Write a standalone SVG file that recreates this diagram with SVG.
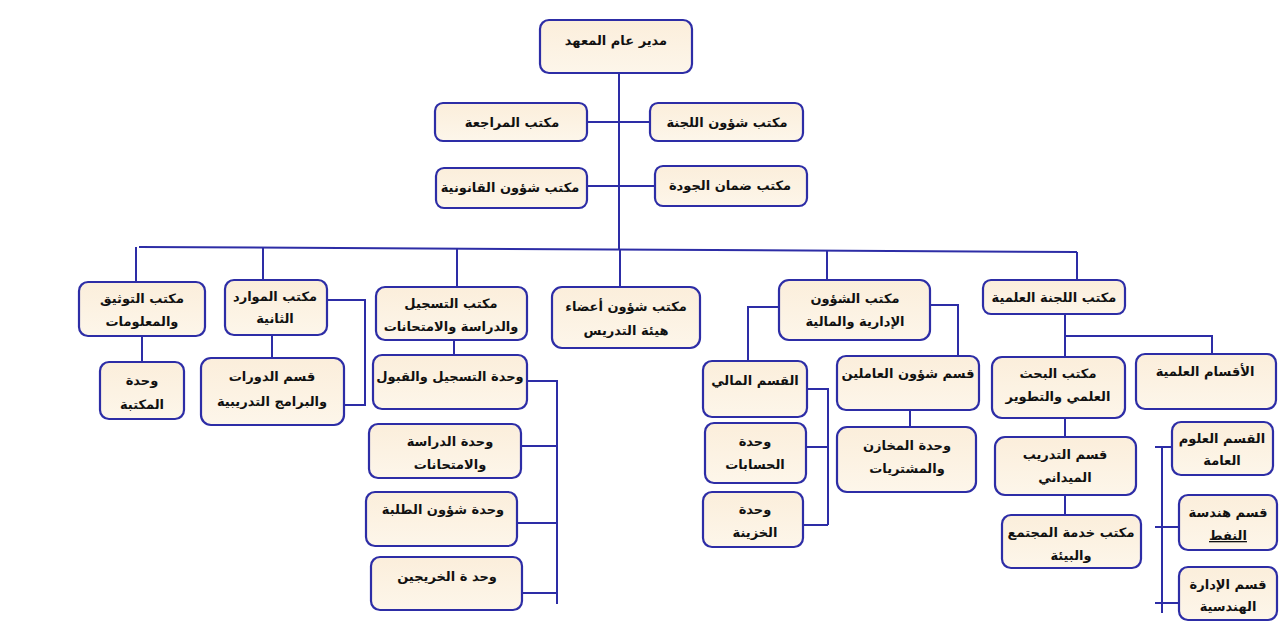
<svg xmlns="http://www.w3.org/2000/svg" width="1280" height="623" viewBox="0 0 1280 623">
<defs>
<linearGradient id="fill" x1="0" y1="0" x2="0" y2="1">
<stop offset="0" stop-color="#fbeedb"/>
<stop offset="1" stop-color="#fdf6ea"/>
</linearGradient>
</defs>
<style>
.box{fill:url(#fill);stroke:#2d2da6;stroke-width:2.2}
.t{font-family:"DejaVu Sans",sans-serif;font-size:13px;font-weight:bold;fill:#111111;text-anchor:middle;direction:rtl}
.c{fill:none;stroke:#2d2da6;stroke-width:2}
</style>
<rect width="1280" height="623" fill="#ffffff"/>
<g id="connectors" class="c">
<path d="M619 73 V250"/>
<path d="M587 122 H650"/>
<path d="M587 186 H655"/>
<path d="M139 247 L1077 252"/>
<path d="M136 247 V282"/>
<path d="M263 248 V280"/>
<path d="M457 249 V287"/>
<path d="M620 250 V287"/>
<path d="M827 251 V280"/>
<path d="M1077 252 V280"/>
<path d="M142 336 V362"/>
<path d="M272 335 V358"/>
<path d="M327 300 H365 V405 H344"/>
<path d="M454 340 V355"/>
<path d="M520 381 H557 V604"/>
<path d="M518 446 H557"/>
<path d="M514 523 H557"/>
<path d="M519 593 H557"/>
<path d="M779 307 H748 V361"/>
<path d="M930 305 H958 V356"/>
<path d="M910 410 V427"/>
<path d="M807 389 H828 V525"/>
<path d="M806 447 H828"/>
<path d="M803 525 H828"/>
<path d="M1065 314 V357"/>
<path d="M1065 336 H1212 V354"/>
<path d="M1065 418 V437"/>
<path d="M1065 495 V515"/>
<path d="M1162 447 V613"/>
<path d="M1155 447 H1172"/>
<path d="M1155 527 H1179"/>
<path d="M1155 603 H1179"/>
</g>
<g id="n-root"><rect class="box" x="540" y="20" width="152" height="53" rx="9"/><text class="t" x="616" y="45">مدير عام المعهد</text></g>
<g id="n-review"><rect class="box" x="435" y="103" width="152" height="38" rx="8"/><text class="t" x="512" y="127">مكتب المراجعة</text></g>
<g id="n-committee"><rect class="box" x="650" y="103" width="153" height="38" rx="8"/><text class="t" x="727" y="127">مكتب شؤون اللجنة</text></g>
<g id="n-legal"><rect class="box" x="436" y="168" width="151" height="40" rx="8"/><text class="t" x="510" y="192">مكتب شؤون القانونية</text></g>
<g id="n-quality"><rect class="box" x="655" y="166" width="152" height="40" rx="8"/><text class="t" x="730" y="190">مكتب ضمان الجودة</text></g>
<g id="n-doc"><rect class="box" x="79" y="282" width="126" height="54" rx="9"/><text class="t" x="142" y="303">مكتب التوثيق</text><text class="t" x="142" y="326">والمعلومات</text></g>
<g id="n-library"><rect class="box" x="100" y="362" width="84" height="57" rx="9"/><text class="t" x="142" y="385">وحدة</text><text class="t" x="142" y="409">المكتبة</text></g>
<g id="n-hr"><rect class="box" x="225" y="280" width="102" height="55" rx="9"/><text class="t" x="275" y="301">مكتب الموارد</text><text class="t" x="275" y="323">الثانية</text></g>
<g id="n-courses"><rect class="box" x="201" y="358" width="143" height="67" rx="10"/><text class="t" x="272" y="381">قسم الدورات</text><text class="t" x="272" y="406">والبرامج التدريبية</text></g>
<g id="n-regoffice"><rect class="box" x="376" y="287" width="151" height="53" rx="9"/><text class="t" x="451" y="308">مكتب التسجيل</text><text class="t" x="451" y="331">والدراسة والامتحانات</text></g>
<g id="n-regunit"><rect class="box" x="373" y="355" width="154" height="54" rx="9"/><text class="t" x="450" y="381">وحدة التسجيل والقبول</text></g>
<g id="n-study"><rect class="box" x="369" y="424" width="152" height="54" rx="9"/><text class="t" x="450" y="446">وحدة الدراسة</text><text class="t" x="450" y="469">والامتحانات</text></g>
<g id="n-students"><rect class="box" x="366" y="492" width="151" height="54" rx="9"/><text class="t" x="443" y="514">وحدة شؤون الطلبة</text></g>
<g id="n-graduates"><rect class="box" x="371" y="557" width="151" height="53" rx="9"/><text class="t" x="447" y="581">وحد ة الخريجين</text></g>
<g id="n-faculty"><rect class="box" x="552" y="287" width="148" height="61" rx="10"/><text class="t" x="626" y="311">مكتب شؤون أعضاء</text><text class="t" x="626" y="335">هيئة التدريس</text></g>
<g id="n-admin"><rect class="box" x="779" y="280" width="151" height="60" rx="10"/><text class="t" x="855" y="303">مكتب الشؤون</text><text class="t" x="855" y="326">الإدارية والمالية</text></g>
<g id="n-finance"><rect class="box" x="703" y="361" width="104" height="56" rx="9"/><text class="t" x="755" y="385">القسم المالي</text></g>
<g id="n-accounts"><rect class="box" x="705" y="423" width="101" height="60" rx="9"/><text class="t" x="755" y="446">وحدة</text><text class="t" x="755" y="469">الحسابات</text></g>
<g id="n-treasury"><rect class="box" x="703" y="492" width="100" height="55" rx="9"/><text class="t" x="755" y="514">وحدة</text><text class="t" x="755" y="537">الخزينة</text></g>
<g id="n-staff"><rect class="box" x="837" y="356" width="142" height="54" rx="9"/><text class="t" x="908" y="378">قسم شؤون العاملين</text></g>
<g id="n-stores"><rect class="box" x="837" y="427" width="139" height="65" rx="10"/><text class="t" x="907" y="450">وحدة المخازن</text><text class="t" x="907" y="473">والمشتريات</text></g>
<g id="n-scicommittee"><rect class="box" x="983" y="280" width="142" height="34" rx="8"/><text class="t" x="1054" y="302">مكتب اللجنة العلمية</text></g>
<g id="n-research"><rect class="box" x="992" y="357" width="133" height="61" rx="10"/><text class="t" x="1058" y="378">مكتب البحث</text><text class="t" x="1058" y="401">العلمي والتطوير</text></g>
<g id="n-scidepts"><rect class="box" x="1136" y="354" width="140" height="55" rx="9"/><text class="t" x="1205" y="376">الأقسام العلمية</text></g>
<g id="n-training"><rect class="box" x="995" y="437" width="141" height="58" rx="10"/><text class="t" x="1065" y="459">قسم التدريب</text><text class="t" x="1065" y="482">الميداني</text></g>
<g id="n-community"><rect class="box" x="1002" y="515" width="139" height="53" rx="9"/><text class="t" x="1071" y="537">مكتب خدمة المجتمع</text><text class="t" x="1071" y="560">والبيئة</text></g>
<g id="n-general"><rect class="box" x="1172" y="422" width="101" height="53" rx="9"/><text class="t" x="1222" y="443">القسم العلوم</text><text class="t" x="1222" y="465">العامة</text></g>
<g id="n-petroleum"><rect class="box" x="1179" y="495" width="98" height="55" rx="9"/><text class="t" x="1228" y="517">قسم هندسة</text><text class="t" x="1228" y="540" text-decoration="underline">النفط</text></g>
<g id="n-engmgmt"><rect class="box" x="1179" y="567" width="98" height="53" rx="9"/><text class="t" x="1228" y="589">قسم الإدارة</text><text class="t" x="1228" y="611">الهندسية</text></g>
</svg>
